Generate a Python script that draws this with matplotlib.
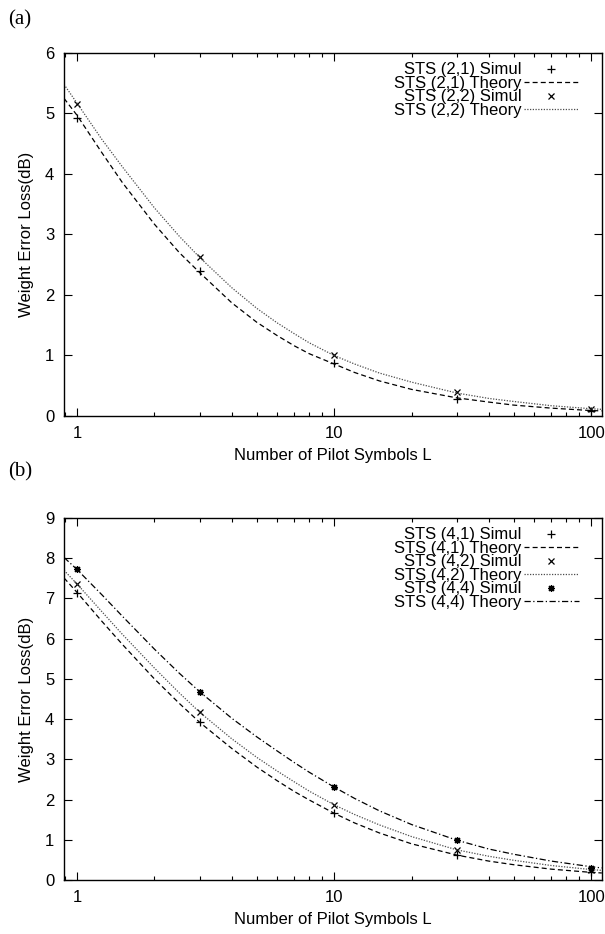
import matplotlib
matplotlib.use('Agg')

import matplotlib.pyplot as plt

plt.rcParams['font.family'] = ['Liberation Sans', 'DejaVu Sans']

# pilot lengths used for the simulated points
sim_L = [1, 3, 10, 30, 100]

# theory curves at these pilot lengths
th_L = [0.89, 1, 1.25, 1.5, 2, 2.5, 3, 4, 5, 6, 7, 8, 10, 12, 15, 20, 30, 40, 50, 70, 100, 110]

# panel (a)
sim_21 = [4.92, 2.40, 0.88, 0.28, 0.09]
sim_22 = [5.15, 2.62, 1.00, 0.39, 0.12]
th_21 = [5.25, 4.97, 4.35, 3.86, 3.17, 2.70, 2.37, 1.87, 1.55, 1.33, 1.16, 1.03, 0.86, 0.72,
         0.58, 0.44, 0.30, 0.23, 0.18, 0.13, 0.09, 0.085]
th_22 = [5.48, 5.17, 4.57, 4.12, 3.44, 2.97, 2.62, 2.12, 1.78, 1.54, 1.36, 1.21, 1.00, 0.86,
         0.71, 0.56, 0.38, 0.29, 0.24, 0.17, 0.12, 0.11]

# panel (b)
sim_41 = [7.14, 3.92, 1.66, 0.62, 0.19]
sim_42 = [7.36, 4.17, 1.87, 0.75, 0.26]
sim_44 = [7.72, 4.68, 2.31, 0.99, 0.31]
th_41 = [7.51, 7.15, 6.43, 5.86, 5.00, 4.39, 3.92, 3.27, 2.81, 2.47, 2.20, 1.99, 1.66, 1.42,
         1.17, 0.90, 0.62, 0.47, 0.38, 0.27, 0.19, 0.175]
th_42 = [7.70, 7.36, 6.67, 6.11, 5.27, 4.65, 4.17, 3.51, 3.05, 2.71, 2.44, 2.21, 1.87, 1.63,
         1.37, 1.08, 0.75, 0.59, 0.49, 0.36, 0.26, 0.24]
th_44 = [8.02, 7.72, 7.09, 6.56, 5.74, 5.14, 4.68, 4.02, 3.56, 3.21, 2.92, 2.68, 2.31, 2.03,
         1.72, 1.38, 0.99, 0.77, 0.64, 0.47, 0.33, 0.30]

DASH = (0, (4, 2.5))
DOT = (0, (1, 1.2))
DASHDOT = (0, (5, 2, 1, 2))
STAR = (8, 2, 0)


def style_axes(ax, ymax):
    ax.set_xscale('log')
    ax.set_xlim(0.89, 110)
    ax.set_ylim(0, ymax)
    ax.set_yticks(range(0, ymax + 1))
    ax.set_xticks([1, 10, 100])
    ax.set_xticklabels(['1', '10', '100'])
    ax.tick_params(which='both', direction='in', top=True, right=True,
                   labelsize=12, width=0.8, pad=7)
    ax.tick_params(which='major', length=6)
    ax.tick_params(which='minor', length=3)
    for s in ax.spines.values():
        s.set_linewidth(1.0)
    ax.set_xlabel('Number of Pilot Symbols L', fontsize=12, labelpad=5)
    ax.set_ylabel('Weight Error Loss(dB)', fontsize=12, labelpad=8)


def legend(ax, top):
    ax.legend(loc='upper right', bbox_to_anchor=(0.957, top), frameon=False,
              markerfirst=False, fontsize=12, handlelength=3.3,
              labelspacing=-0.09, handletextpad=0.15, borderaxespad=0, borderpad=0)


fig = plt.figure(figsize=(6.05, 9.34), dpi=100)
ax1 = fig.add_axes([0.1058, 0.5546, 0.889, 0.3887])
ax2 = fig.add_axes([0.1058, 0.0578, 0.889, 0.3876])

ax1.plot(sim_L, sim_21, ls='none', marker='+', ms=5.5, mew=0.9, color='k', label='STS (2,1) Simul')
ax1.plot(th_L, th_21, ls=DASH, lw=0.9, color='k', label='STS (2,1) Theory')
ax1.plot(sim_L, sim_22, ls='none', marker='x', ms=4.2, mew=0.9, color='k', label='STS (2,2) Simul')
ax1.plot(th_L, th_22, ls=DOT, lw=0.9, color='0.3', label='STS (2,2) Theory')
style_axes(ax1, 6)
legend(ax1, 0.974)

ax2.plot(sim_L, sim_41, ls='none', marker='+', ms=5.5, mew=0.9, color='k', label='STS (4,1) Simul')
ax2.plot(th_L, th_41, ls=DASH, lw=0.9, color='k', label='STS (4,1) Theory')
ax2.plot(sim_L, sim_42, ls='none', marker='x', ms=4.2, mew=0.9, color='k', label='STS (4,2) Simul')
ax2.plot(th_L, th_42, ls=DOT, lw=0.9, color='0.3', label='STS (4,2) Theory')
ax2.plot(sim_L, sim_44, ls='none', marker=STAR, ms=5, mew=0.9, color='k', label='STS (4,4) Simul')
ax2.plot(th_L, th_44, ls=DASHDOT, lw=0.9, color='k', label='STS (4,4) Theory')
style_axes(ax2, 9)
legend(ax2, 0.974)

fig.text(8 / 605, 1 - 20 / 934, '(a)', fontsize=15, family='Liberation Serif', va='center')
fig.text(8 / 605, 1 - 472 / 934, '(b)', fontsize=15, family='Liberation Serif', va='center')

fig.savefig('out.png', dpi=100)
